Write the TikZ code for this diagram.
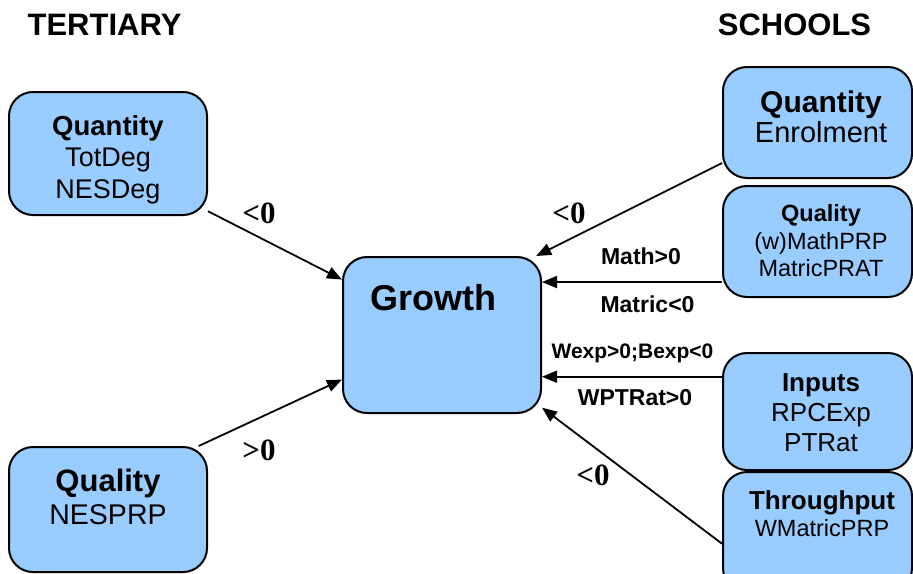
\documentclass[tikz,border=0pt]{standalone}
\usepackage{fontspec}
\setmainfont{Liberation Sans}
\newfontfamily\signfont{Liberation Serif}
\usetikzlibrary{arrows.meta}
\definecolor{boxblue}{HTML}{99CCFF}
\tikzset{
  box/.style={draw=black, line width=2pt, fill=boxblue, rounded corners=24pt,
              minimum width=198pt, inner sep=0pt},
  sbox/.style={box, minimum width=189pt},
  txt/.style={align=center, inner sep=0pt},
  title/.style={anchor=base, inner sep=0pt, font=\bfseries\fontsize{31}{31}\selectfont},
  sign/.style={anchor=base, inner sep=0pt, font=\signfont\bfseries\fontsize{31}{31}\selectfont},
  lab/.style={anchor=base, inner sep=0pt, font=\bfseries\fontsize{23}{23}\selectfont},
  arr/.style={-{Triangle[length=15pt,width=12pt]}, line width=1.8pt},
}
\begin{document}
\begin{tikzpicture}[x=1pt, y=-1pt]
  \useasboundingbox (0,0) rectangle (913,573);
  \clip (0,0) rectangle (913,573);
  % headings
  \node[title] (tert) at (104.5,35) {TERTIARY};
  \node[title] (scho) at (794.5,35) {SCHOOLS};
  % tertiary side
  \node[box, minimum height=123pt] (tquant) at (108,153.5) {};
  \node[txt, font=\fontsize{27}{31.5}\selectfont] (tquant-t) at (108,159.5)
    {{\fontsize{27.5}{31.5}\selectfont\bfseries Quantity}\\TotDeg\\NESDeg};
  \node[box, minimum height=125pt] (tqual) at (108,509.5) {};
  \node[txt, font=\fontsize{28.5}{33}\selectfont] (tqual-t) at (108,497.2)
    {{\fontsize{31}{33}\selectfont\bfseries Quality}\\NESPRP};
  % centre
  \node[box, minimum height=156pt] (grow) at (442,335) {};
  \node[anchor=base, inner sep=0pt, font=\bfseries\fontsize{36}{36}\selectfont] (grow-t) at (433,310) {Growth};
  % schools side
  \node[sbox, minimum height=111pt] (squant) at (817.5,122.5) {};
  \node[txt, font=\fontsize{29}{30}\selectfont] (squant-t) at (821,117)
    {{\fontsize{30}{30}\selectfont\bfseries Quantity}\\Enrolment};
  \node[sbox, minimum height=111pt] (squal) at (817.5,241.5) {};
  \node[txt, font=\fontsize{23.5}{27.5}\selectfont] (squal-t) at (821,241)
    {\bfseries Quality\\(w)MathPRP\\MatricPRAT};
  \node[sbox, minimum height=117pt] (sinp) at (817.5,411.5) {};
  \node[txt, font=\fontsize{26}{30}\selectfont] (sinp-t) at (821,412.7)
    {\bfseries Inputs\\RPCExp\\PTRat};
  \node[sbox, minimum height=120pt] (sthru) at (817.5,532) {};
  \node[txt, font=\fontsize{23.5}{27}\selectfont] (sthru-t) at (822,514)
    {{\fontsize{26}{27}\selectfont\bfseries Throughput}\\WMatricPRP};
  % arrows into growth
  \draw[arr] (tquant.-30) -- (grow.151);
  \draw[arr] (tqual.35) -- (grow.204);
  \draw[arr] (squant.203) -- (grow.40);
  \draw[arr] (squal.203) -- (squal.203 -| grow.east);
  \draw[arr] (sinp.160) -- (sinp.160 -| grow.east);
  \draw[arr] (sthru.187) -- (grow.-36);
  % signs
  \node[sign] (s1) at (259,223) {<0};
  \node[sign] (s2) at (259,460) {>0};
  \node[sign] (s3) at (569,223) {<0};
  \node[sign] (s4) at (593,485) {<0};
  \node[lab] (l1) at (641,264) {Math>0};
  \node[lab] (l2) at (647.5,312) {Matric<0};
  \node[lab, font=\bfseries\fontsize{21}{21}\selectfont] (l3) at (632.5,358) {Wexp>0;Bexp<0};
  \node[lab] (l4) at (635,405) {WPTRat>0};
\end{tikzpicture}
\end{document}
